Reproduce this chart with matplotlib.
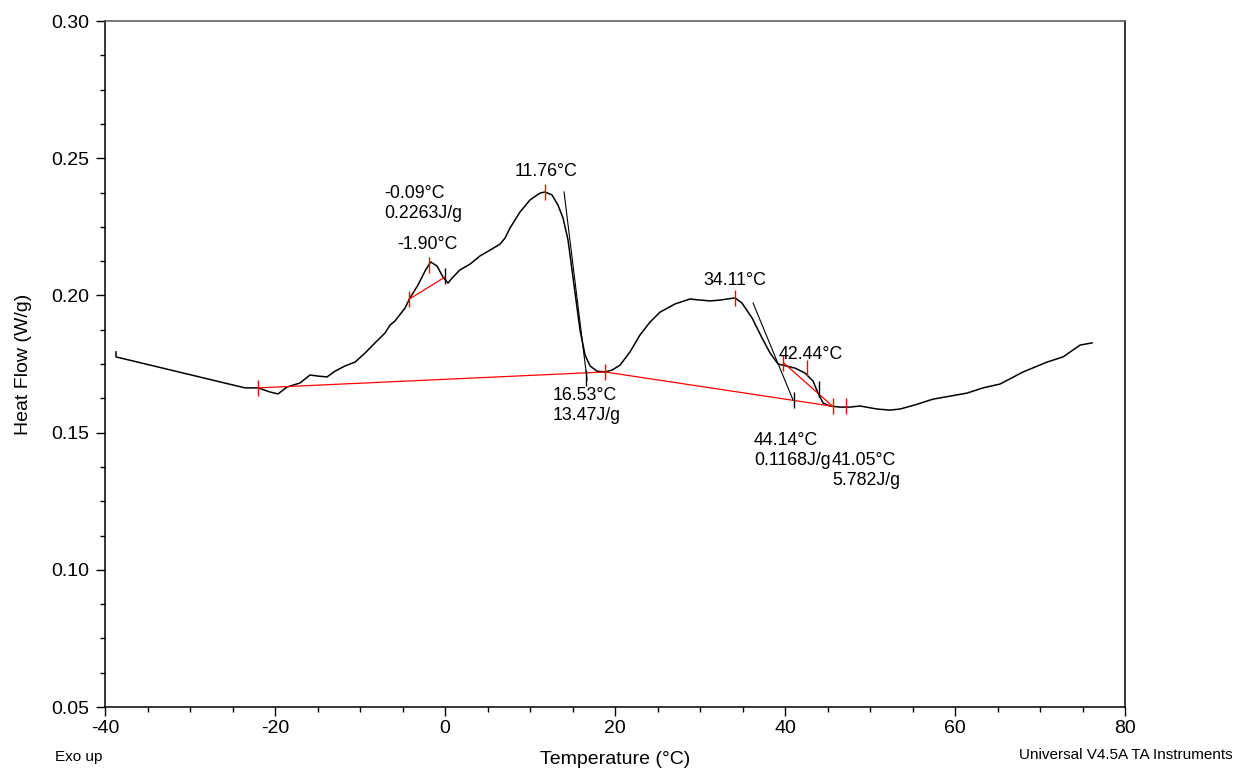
import matplotlib.pyplot as plt
from matplotlib.ticker import MultipleLocator

plt.rcParams["font.family"] = ["Liberation Sans", "DejaVu Sans"]
plt.rcParams["axes.unicode_minus"] = False

# DSC heat flow trace
temp = [-38.71, -38.71, -23.53, -22.0, -20.59, -19.65, -18.59, -17.06, -15.88, -14.94,
        -13.88, -12.94, -11.76, -10.59, -9.41, -8.24, -7.06, -6.47, -5.88, -4.71,
        -4.12, -3.18, -2.35, -1.7, -0.94, -0.24, 0.35, 0.82, 1.76, 2.94,
        4.12, 5.29, 6.47, 7.06, 7.65, 8.82, 10.0, 11.18, 11.76, 12.59,
        13.29, 13.88, 14.47, 14.94, 15.41, 15.88, 16.47, 17.06, 17.88, 18.82,
        19.65, 20.59, 21.76, 22.94, 24.12, 25.29, 27.06, 28.82, 30.0, 31.18,
        32.35, 34.12, 34.94, 36.12, 37.29, 38.24, 39.18, 40.12, 41.18, 42.35,
        43.29, 43.88, 44.47, 45.29, 46.47, 47.65, 48.82, 50.82, 52.35, 53.53,
        55.29, 57.41, 59.41, 61.41, 63.29, 65.29, 68.0, 70.82, 72.71, 74.71, 76.12]
heat_flow = [0.1794, 0.1776, 0.1663, 0.1663, 0.1648, 0.1641, 0.1666, 0.1681, 0.1710, 0.1706,
             0.1703, 0.1724, 0.1743, 0.1757, 0.1790, 0.1827, 0.1863, 0.1892, 0.1907, 0.1954,
             0.1991, 0.2038, 0.2089, 0.2122, 0.2107, 0.2067, 0.2045, 0.2063, 0.2093, 0.2114,
             0.2144, 0.2165, 0.2187, 0.2209, 0.2246, 0.2304, 0.2348, 0.2373, 0.2377, 0.2366,
             0.2329, 0.2282, 0.2202, 0.2093, 0.1983, 0.1874, 0.1783, 0.1743, 0.1724, 0.1721,
             0.1728, 0.1746, 0.1794, 0.1856, 0.1903, 0.1939, 0.1969, 0.1987, 0.1983, 0.1980,
             0.1983, 0.1991, 0.1972, 0.1918, 0.1845, 0.1790, 0.1750, 0.1743, 0.1735, 0.1717,
             0.1688, 0.1644, 0.1608, 0.1597, 0.1593, 0.1593, 0.1597, 0.1586, 0.1582, 0.1586,
             0.1601, 0.1622, 0.1633, 0.1644, 0.1663, 0.1677, 0.1721, 0.1757, 0.1776, 0.1819, 0.1827]

# integration baselines (red)
base_main_t = [-22.0, 18.82, 45.6]
base_main_h = [0.1663, 0.1721, 0.1596]
base_small_t = [-4.24, 0.0]
base_small_h = [0.1986, 0.2067]
base_shoulder_t = [39.8, 45.6]
base_shoulder_h = [0.1755, 0.1596]

# onset tangents (black)
tangent1_t = [14.0, 16.71]
tangent1_h = [0.2377, 0.1692]
tangent2_t = [36.24, 40.94]
tangent2_h = [0.1972, 0.1619]

# cursor marks
red_mark_t = [-22.0, -4.24, -1.9, 11.76, 18.82, 34.11, 39.8, 42.6, 45.6, 47.2]
red_mark_h = [0.1663, 0.1986, 0.2110, 0.2377, 0.1721, 0.1991, 0.1755, 0.1735, 0.1596, 0.1596]
black_mark_t = [0.0, 16.53, 41.06, 44.0]
black_mark_h = [0.2070, 0.1700, 0.1620, 0.1660]

# annotation labels: (text, T, H)
labels = [
    ("-0.09°C", -7.18, 0.2373),
    ("0.2263J/g", -7.18, 0.2300),
    ("-1.90°C", -5.65, 0.2184),
    ("11.76°C", 8.24, 0.2453),
    ("16.53°C", 12.7, 0.1637),
    ("13.47J/g", 12.7, 0.1564),
    ("34.11°C", 30.35, 0.2056),
    ("42.44°C", 39.29, 0.1786),
    ("44.14°C", 36.35, 0.1473),
    ("0.1168J/g", 36.35, 0.1397),
    ("41.05°C", 45.53, 0.1397),
    ("5.782J/g", 45.53, 0.1324),
]

fig = plt.figure(figsize=(12.37, 7.70), dpi=100)
ax = fig.add_axes([0.0849, 0.0818, 0.8246, 0.8909])

ax.plot(temp, heat_flow, color="black", lw=1.1)
ax.plot(base_main_t, base_main_h, color="red", lw=0.9)
ax.plot(base_small_t, base_small_h, color="red", lw=0.9)
ax.plot(base_shoulder_t, base_shoulder_h, color="red", lw=0.9)
ax.plot(tangent1_t, tangent1_h, color="black", lw=0.8)
ax.plot(tangent2_t, tangent2_h, color="black", lw=0.8)
ax.plot(red_mark_t, red_mark_h, ls="none", marker="|", ms=11, mew=1.0, color="red")
ax.plot(black_mark_t, black_mark_h, ls="none", marker="|", ms=11, mew=1.0, color="black")

for txt, t, h in labels:
    ax.text(t, h, txt, fontsize=12.8, ha="left", va="center")

ax.set_xlim(-40, 80)
ax.set_ylim(0.05, 0.30)
ax.xaxis.set_major_locator(MultipleLocator(20))
ax.xaxis.set_minor_locator(MultipleLocator(5))
ax.yaxis.set_major_locator(MultipleLocator(0.05))
ax.yaxis.set_minor_locator(MultipleLocator(0.0125))
ax.yaxis.set_major_formatter(plt.FuncFormatter(lambda v, p: f"{v:.2f}"))
ax.tick_params(which="major", direction="out", length=6.5, width=1.0, labelsize=14, pad=3)
ax.tick_params(axis="y", which="major", pad=4.5)
ax.tick_params(which="minor", direction="out", length=3.5, width=1.0)
for s in ax.spines.values():
    s.set_linewidth(1.1)
ax.spines["top"].set_color("#555555")

ax.set_xlabel("Temperature (°C)", fontsize=14, labelpad=10)
ax.set_ylabel("Heat Flow (W/g)", fontsize=14, labelpad=14)

fig.text(55 / 1237, 1 - 757 / 770, "Exo up", fontsize=11, ha="left", va="center")
fig.text(1233 / 1237, 1 - 755 / 770, "Universal V4.5A TA Instruments", fontsize=11,
         ha="right", va="center")

fig.savefig("out.png", dpi=100)
